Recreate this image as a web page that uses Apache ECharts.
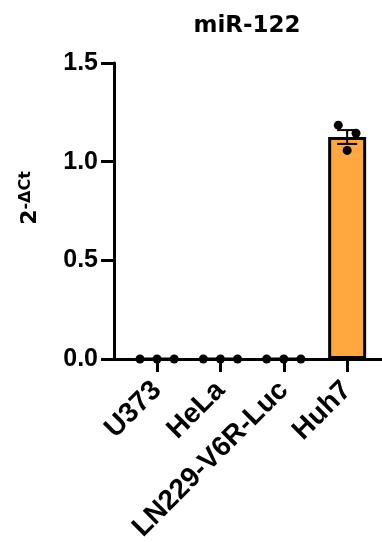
<!DOCTYPE html>
<html>
<head>
<meta charset="utf-8">
<script src="https://cdn.jsdelivr.net/npm/echarts@6/dist/echarts.min.js"></script>
<style>html,body{margin:0;padding:0;background:#fff;}#c{width:382px;height:542px;}</style>
</head>
<body>
<div id="c"></div>
<script>
var categories = ['U373', 'HeLa', 'LN229-V6R-Luc', 'Huh7'];
var means = [0, 0, 0, 1.125];
var sems = [0, 0, 0, 0.035];
var replicates = [
  [0, 0, 0],
  [0, 0, 0],
  [0, 0, 0],
  [1.185, 1.057, 1.144]
];
var jitter = [
  [-0.27, 0, 0.27],
  [-0.27, 0, 0.27],
  [-0.27, 0, 0.27],
  [-0.14, 0, 0.14]
];
var yTicks = [0, 0.5, 1.0, 1.5];

var FONT = 'Arial, "Liberation Sans", sans-serif';
var WIDE = '"DejaVu Sans", Arial, sans-serif';
var chart = echarts.init(document.getElementById('c'), null, {renderer: 'canvas'});

var barData = means.map(function (m, i) { return [i, m]; });
var dotData = [];
replicates.forEach(function (arr, i) {
  arr.forEach(function (v, j) { dotData.push([i + jitter[i][j], v]); });
});
var errData = means.map(function (m, i) { return [i, m, sems[i]]; });

chart.setOption({
  animation: false,
  title: {
    text: 'miR-122',
    left: 242, textAlign: 'center', top: 10,
    textStyle: {fontFamily: WIDE, fontWeight: 'bold', fontSize: 23, color: '#000'}
  },
  grid: {left: 114, right: 0, top: 63, bottom: 183, containLabel: false, outerBoundsMode: 'none'},
  xAxis: {
    type: 'value', min: -0.68, max: 3.55,
    splitLine: {show: false},
    axisLine: {show: true, onZero: false, lineStyle: {color: '#000', width: 3}},
    axisTick: {show: true, customValues: [0, 1, 2, 3], length: 13, lineStyle: {color: '#000', width: 3}},
    axisLabel: {
      customValues: [0, 1, 2, 3],
      formatter: function (v) { return categories[Math.round(v)]; },
      rotate: 45, margin: 27,
      fontFamily: FONT, fontWeight: 'bold', fontSize: 28, color: '#000'
    }
  },
  yAxis: {
    type: 'value', min: 0, max: 1.5, interval: 0.5,
    name: '{b|2}{s|-ΔCt}',
    nameLocation: 'middle', nameRotate: 90, nameGap: 72,
    nameTextStyle: {
      rich: {
        b: {fontFamily: WIDE, fontWeight: 'bold', fontSize: 22, color: '#000', padding: [0, 0, 0, 26]},
        s: {fontFamily: WIDE, fontWeight: 'bold', fontSize: 16, color: '#000', padding: [0, 0, 8, 0]}
      }
    },
    splitLine: {show: false},
    axisLine: {show: true, onZero: false, lineStyle: {color: '#000', width: 3}},
    axisTick: {show: true, length: 13, lineStyle: {color: '#000', width: 3}},
    axisLabel: {
      margin: 16,
      formatter: function (v) { return v.toFixed(1); },
      fontFamily: FONT, fontWeight: 'bold', fontSize: 25, color: '#000'
    }
  },
  series: [
    {
      type: 'bar',
      data: barData,
      barWidth: 38,
      itemStyle: {color: '#FFA83F', borderColor: '#000', borderWidth: 3},
      z: 2
    },
    {
      type: 'custom',
      data: errData,
      z: 3,
      renderItem: function (params, api) {
        var x = api.value(0), m = api.value(1), s = api.value(2);
        if (s <= 0) return null;
        var top = api.coord([x, m + s]);
        var bot = api.coord([x, m - s]);
        var hw = 10;
        var st = {stroke: '#000', lineWidth: 2};
        return {
          type: 'group',
          children: [
            {type: 'line', shape: {x1: top[0], y1: top[1], x2: bot[0], y2: bot[1]}, style: st},
            {type: 'line', shape: {x1: top[0] - hw, y1: top[1], x2: top[0] + hw, y2: top[1]}, style: st},
            {type: 'line', shape: {x1: bot[0] - hw, y1: bot[1], x2: bot[0] + hw, y2: bot[1]}, style: st}
          ]
        };
      }
    },
    {
      type: 'scatter',
      data: dotData,
      symbol: 'circle',
      symbolSize: 9,
      itemStyle: {color: '#000', opacity: 1},
      z: 4
    }
  ]
});
</script>
</body>
</html>
